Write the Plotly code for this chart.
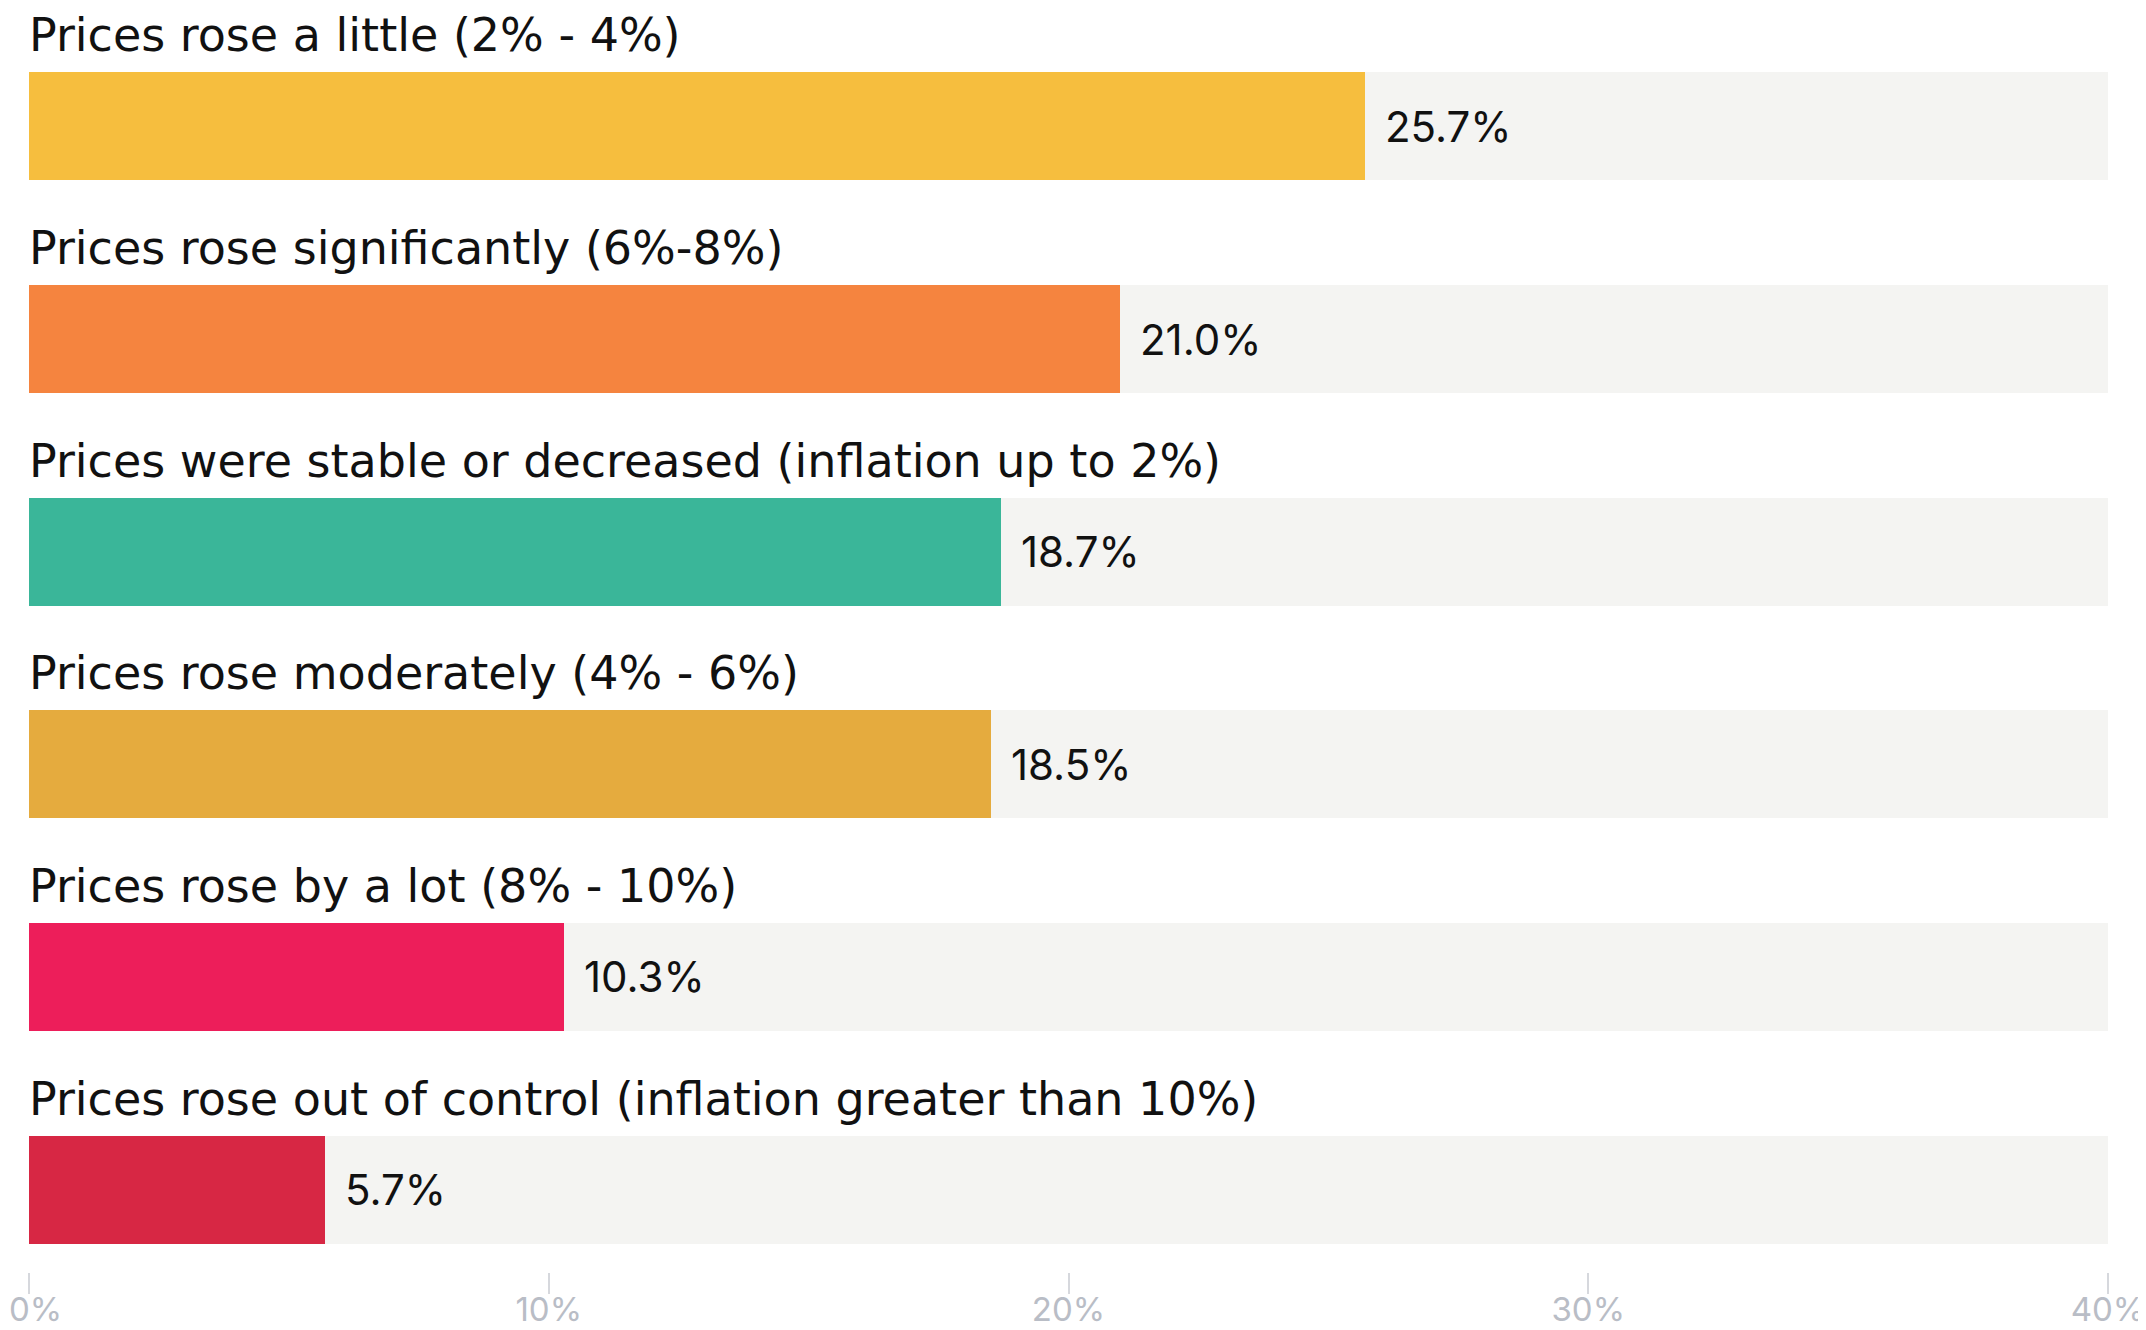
import plotly.graph_objects as go

categories = [
    "Prices rose a little (2% - 4%)",
    "Prices rose significantly (6%-8%)",
    "Prices were stable or decreased (inflation up to 2%)",
    "Prices rose moderately (4% - 6%)",
    "Prices rose by a lot (8% - 10%)",
    "Prices rose out of control (inflation greater than 10%)",
]
values = [25.7, 21.0, 18.7, 18.5, 10.3, 5.7]
colors = ["#F6BE3E", "#F5843F", "#3AB699", "#E5AB3E", "#ED1E5A", "#D72744"]
axis_max = 40
tick_vals = [0, 10, 20, 30, 40]
tick_text = ["0%", "10%", "20%", "30%", "40%"]

pos = list(range(len(categories)))
bar_w = 0.508
tick_font = dict(family="Inter, Roboto, sans-serif", size=33, color="#B9BDC6")

fig = go.Figure()
fig.add_trace(go.Bar(
    x=[axis_max] * len(categories), y=pos, orientation="h",
    width=bar_w, marker=dict(color="#F4F4F2", line=dict(width=0)),
    hoverinfo="skip", showlegend=False,
))
fig.add_trace(go.Bar(
    x=values, y=pos, orientation="h", width=bar_w,
    marker=dict(color=colors, line=dict(width=0)),
    showlegend=False, hovertext=categories,
))

annotations = []
for i, (cat, v) in enumerate(zip(categories, values)):
    annotations.append(dict(
        x=0, y=i - bar_w / 2, xref="x", yref="y", text=cat,
        xanchor="left", yanchor="bottom", showarrow=False,
        yshift=8, xshift=-2,
        font=dict(family="DejaVu Sans, sans-serif", size=46, color="#111111"),
    ))
    annotations.append(dict(
        x=v, y=i, xref="x", yref="y", text=f"{v:.1f}%",
        xanchor="left", yanchor="middle", showarrow=False,
        xshift=18,
        font=dict(family="Inter, Roboto, sans-serif", size=42, color="#111111"),
    ))

# first tick label drawn as an annotation so it is not clipped at the figure's left edge
annotations.append(dict(
    x=0, y=0, xref="paper", yref="paper", text=tick_text[0],
    xanchor="left", yanchor="top", showarrow=False,
    xshift=-22, yshift=-15, font=tick_font,
))
axis_ticktext = [""] + tick_text[1:]

# page has an 8px body offset; figure sized to fill the rest of the window
fig.update_layout(
    width=2138, height=1322,
    margin=dict(l=21, r=38, t=0, b=58),
    paper_bgcolor="white", plot_bgcolor="white",
    barmode="overlay", bargap=0,
    annotations=annotations,
    xaxis=dict(
        range=[0, axis_max], tickvals=tick_vals, ticktext=axis_ticktext,
        ticks="outside", ticklen=21, tickwidth=2, tickcolor="#D6D8DD",
        showgrid=False, zeroline=False, showline=False, automargin=False,
        ticklabeloverflow="allow", ticklabelstandoff=-13,
        tickfont=tick_font,
        fixedrange=True,
    ),
    yaxis=dict(
        range=[5.388, -0.557], showticklabels=False, showgrid=False,
        zeroline=False, showline=False, ticks="", fixedrange=True, automargin=False,
    ),
)

fig.write_html("out.html")
